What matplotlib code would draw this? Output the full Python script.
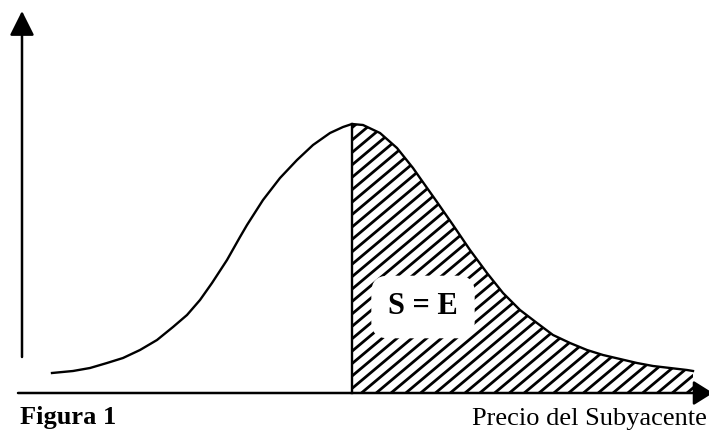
import numpy as np
import matplotlib
matplotlib.use("Agg")
import matplotlib.pyplot as plt
from matplotlib.patches import Polygon

# Curve (price of the underlying vs. density, arbitrary units)
price_left = [31, 52, 69, 86, 102, 119, 136, 152, 166, 179, 191, 206, 219, 226, 242, 259,
              276, 292, 309, 322, 331]
dens_left = [20, 22, 25, 30, 35, 43, 53, 66, 78, 93, 110, 133, 156, 168, 193, 215,
             233, 248, 260, 266, 269]
price_right = [331, 342, 359, 376, 392, 399, 416, 432, 449, 466, 482, 499, 516, 532, 549,
               566, 582, 599, 616, 632, 649, 666, 672]
dens_right = [269, 268, 260, 245, 225, 215, 191, 168, 143, 120, 100, 83, 70, 58, 50,
              43, 38, 34, 30, 27, 25, 23, 22]
strike = 331

fig = plt.figure(figsize=(7.09, 4.30), dpi=100)
ax = fig.add_axes([0, 0, 1, 1])
ax.set_xlim(-21, 688)
ax.set_ylim(-37, 393)
ax.axis("off")

plt.rcParams["font.family"] = ["Liberation Serif", "DejaVu Serif"]

# shaded region to the right of the strike (hand-drawn style hatching)
xr = np.array(price_right)
yr = np.array(dens_right)
verts = [(strike, 0)] + list(zip(xr, yr)) + [(xr[-1], 0)]
region = Polygon(verts, closed=True, facecolor="white", edgecolor="none")
ax.add_patch(region)

slope = np.tan(np.deg2rad(40))
for c in np.arange(0, 700, 14.8):
    ln, = ax.plot([c, c + 500], [0, 500 * slope], color="black", lw=2.0,
                  solid_capstyle="butt")
    ln.set_clip_path(region)

# curve and strike line
ax.plot(price_left + price_right[1:], dens_left + dens_right[1:], color="black", lw=1.7,
        solid_joinstyle="round")
ax.plot([strike, strike], [0, dens_right[0]], color="black", lw=1.7)

# axes with arrows
ax.annotate("", xy=(1, 382), xytext=(1, 36), annotation_clip=False,
            arrowprops=dict(arrowstyle="-|>,head_length=1.5,head_width=0.75",
                            mutation_scale=10, lw=1.8, color="black",
                            shrinkA=0, shrinkB=0))
ax.annotate("", xy=(692, 0), xytext=(-3, 0), annotation_clip=False,
            arrowprops=dict(arrowstyle="-|>,head_length=1.2,head_width=0.75",
                            mutation_scale=10, lw=1.8, color="black",
                            shrinkA=0, shrinkB=0))

ax.text(402, 86, "S = E", fontsize=22, fontweight="bold", ha="center", va="center",
        bbox=dict(boxstyle="round,pad=0.55", facecolor="white", edgecolor="none"))
ax.text(-1, -31, "Figura 1", fontsize=19, fontweight="bold", ha="left", va="baseline")
ax.text(686, -32, "Precio del Subyacente", fontsize=19, ha="right", va="baseline")

fig.savefig("out.png", dpi=100)
plt.close(fig)
